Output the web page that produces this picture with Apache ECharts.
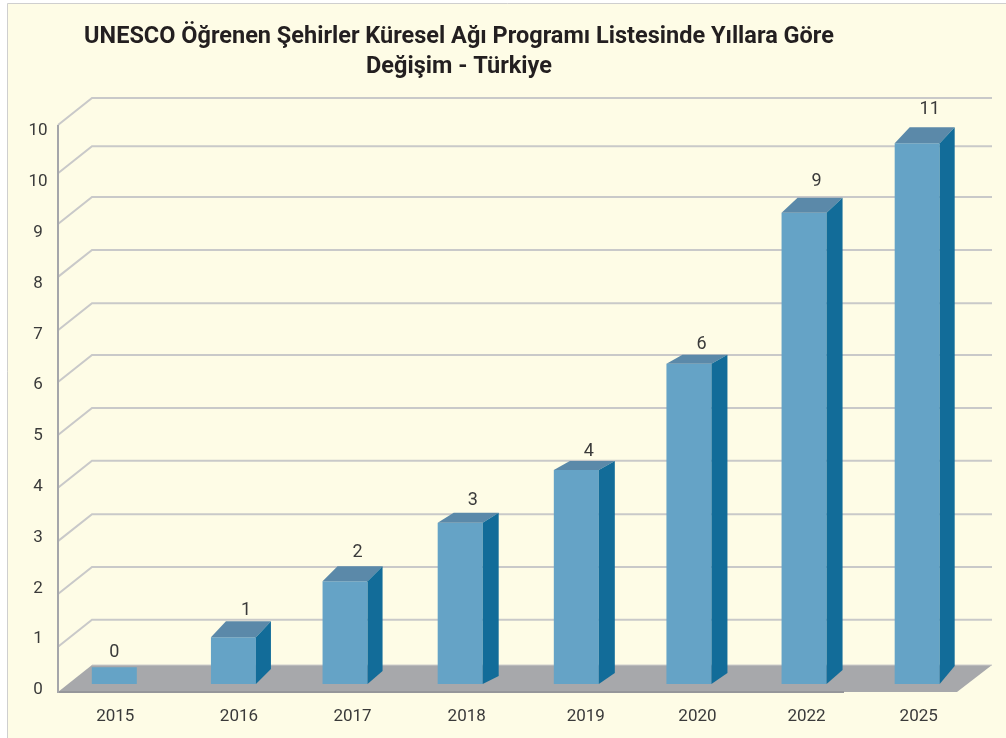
<!DOCTYPE html>
<html>
<head>
<meta charset="utf-8">
<title>UNESCO Öğrenen Şehirler</title>
<script src="https://cdn.jsdelivr.net/npm/echarts@6/dist/echarts.min.js"></script>
<style>
html, body { margin: 0; padding: 0; background: #fff; }
#main { width: 1006px; height: 738px; }
</style>
</head>
<body>
<div id="main"></div>
<script>
var years = ['2015', '2016', '2017', '2018', '2019', '2020', '2022', '2025'];
// printed above each bar
var cityCounts = [0, 1, 2, 3, 4, 6, 9, 11];
// where the bar tops sit on the picture's axis (the drawn heights do not quite follow the printed numbers)
var barTops = [0.41, 1.0, 2.1, 3.25, 4.29, 6.38, 9.35, 10.72];
// the axis prints 10 twice in the original
var tickLabels = ['0', '1', '2', '3', '4', '5', '6', '7', '8', '9', '10', '10'];
// grid lines are not exactly on the ticks in the original
var gridLevels = [0.81, 1.85, 2.89, 3.94, 4.98, 6.02, 7.04, 8.09, 9.13, 10.13, 11.08];
var floorLevel = -0.08;
var barFloor = 0.08;

// small layout corrections, px. the original's 3d depth differs from bar to bar
var barNudge = [-1, 3.5, 0.5, 1, 2.5, 0.5, 1, -0.5];
var yearNudge = [0, 9, 8, 7.5, 12, 9, 3.5, 1];
var depthX = [0, 15, 15, 16, 16, 16, 16, 15];
var depthTop = [0, 16, 15, 10, 9, 9, 15, 16];
var depthBase = [0, 15, 13, 8, 11, 11, 14, 18];
var valueLift = [15, 11, 14, 12, 9, 10, 16, 18];

var FONT = 'Roboto, "Noto Sans", sans-serif';
var WALL_DX = 34, WALL_DY = -27;
var BAR_W = 45;
var FLOOR_RIGHT = 957;

var yearRich = {};
years.forEach(function (y, i) {
	yearRich['y' + i] = { fontFamily: FONT, fontSize: 17, color: '#3a3a3a', padding: [0, 0, 0, yearNudge[i] * 2] };
});

function renderWall(params, api) {
	var y = api.coord([0, api.value(0)])[1];
	var left = params.coordSys.x;
	return {
		type: 'polyline',
		silent: true,
		shape: { points: [[left, y], [left + WALL_DX, y + WALL_DY], [FLOOR_RIGHT + WALL_DX + 1, y + WALL_DY]] },
		style: { fill: null, stroke: '#c9c9c9', lineWidth: 2 }
	};
}

function renderFloor(params, api) {
	var y = api.coord([0, floorLevel])[1];
	var left = params.coordSys.x;
	return {
		type: 'group',
		children: [
			{
				type: 'polygon',
				shape: { points: [[left, y], [left + WALL_DX, y + WALL_DY], [FLOOR_RIGHT + WALL_DX + 1, y + WALL_DY], [FLOOR_RIGHT, y]] },
				style: { fill: '#a7a8ab' }
			},
			{ type: 'line', shape: { x1: left + WALL_DX, y1: y + WALL_DY, x2: FLOOR_RIGHT + WALL_DX + 1, y2: y + WALL_DY }, style: { stroke: '#c9c9c9', lineWidth: 1 } },
			{ type: 'line', shape: { x1: left, y1: y, x2: 844, y2: y }, style: { stroke: '#95969a', lineWidth: 2 } },
			{ type: 'line', shape: { x1: left, y1: y + 1, x2: left, y2: api.coord([0, 11.08])[1] }, style: { stroke: '#a5a6aa', lineWidth: 2 } }
		]
	};
}

function renderBar(params, api) {
	var i = api.value(0);
	var top = api.coord([i, api.value(1)]);
	var base = api.coord([i, barFloor]);
	var x0 = top[0] - BAR_W / 2 + barNudge[i];
	var x1 = x0 + BAR_W;
	var count = cityCounts[i];
	var kids = [{
		type: 'rect',
		shape: { x: x0, y: top[1], width: BAR_W, height: base[1] - top[1] },
		style: { fill: '#65a3c6' }
	}];
	// the zero bar is flat in the original, depth 0 and no top or side face
	if (count > 0) {
		kids.push({
			type: 'polygon',
			shape: { points: [[x0, top[1]], [x0 + depthX[i], top[1] - depthTop[i]], [x1 + depthX[i], top[1] - depthTop[i]], [x1, top[1]]] },
			style: { fill: '#5b89a9' }
		});
		kids.push({
			type: 'polygon',
			shape: { points: [[x1, top[1]], [x1 + depthX[i], top[1] - depthTop[i]], [x1 + depthX[i], base[1] - depthBase[i]], [x1, base[1]]] },
			style: { fill: '#126c99' }
		});
	}
	kids.push({
		type: 'text',
		style: {
			text: String(count),
			x: x0 + BAR_W / 2 + (count > 0 ? 12.5 : 0),
			y: top[1] - depthTop[i] - valueLift[i],
			align: 'center',
			verticalAlign: 'middle',
			font: '18px ' + FONT,
			fill: '#3a3a3a'
		}
	});
	return { type: 'group', children: kids };
}

var myChart = echarts.init(document.getElementById('main'));

var option = {
	backgroundColor: '#ffffff',
	animation: false,
	title: {
		text: 'UNESCO Öğrenen Şehirler Küresel Ağı Programı Listesinde Yıllara Göre\nDeğişim - Türkiye',
		left: 454,
		top: 17,
		textAlign: 'center',
		textStyle: { fontFamily: FONT, fontSize: 23.5, fontWeight: 'bold', color: '#231f20', lineHeight: 30 }
	},
	graphic: [{
		type: 'rect',
		z: -10,
		shape: { x: 7.5, y: 3.5, width: 1010, height: 740 },
		style: { fill: '#fefce6', stroke: '#cfcfcf', lineWidth: 1 }
	}],
	grid: { left: 58, right: 31, top: 129, bottom: 50 },
	xAxis: {
		type: 'category',
		data: years,
		axisLine: { show: false },
		axisTick: { show: false },
		axisLabel: {
			margin: 20,
			interval: 0,
			formatter: function (v, i) { return '{y' + i + '|' + v + '}'; },
			rich: yearRich
		}
	},
	yAxis: {
		type: 'value',
		min: 0,
		max: 11,
		interval: 1,
		axisLine: { show: false },
		axisTick: { show: false },
		splitLine: { show: false },
		axisLabel: {
			margin: 20,
			align: 'center',
			formatter: function (v) { return '{t|' + tickLabels[v] + '}'; },
			rich: { t: { fontFamily: FONT, fontSize: 17, color: '#3a3a3a', padding: [4, 0, 0, 0] } }
		}
	},
	series: [
		{ type: 'custom', coordinateSystem: 'cartesian2d', clip: false, silent: true, z: 1, encode: { y: 0 }, data: gridLevels.map(function (g) { return [g]; }), renderItem: renderWall },
		{ type: 'custom', coordinateSystem: 'cartesian2d', clip: false, silent: true, z: 2, data: [[0]], renderItem: renderFloor },
		{ type: 'custom', coordinateSystem: 'cartesian2d', clip: false, z: 3, encode: { x: 0, y: 1 }, data: barTops.map(function (t, i) { return [i, t]; }), renderItem: renderBar }
	]
};

myChart.setOption(option);
</script>
</body>
</html>
